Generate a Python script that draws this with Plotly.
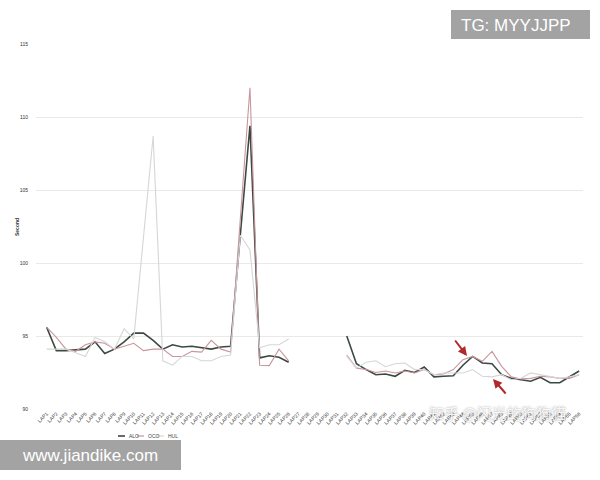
import plotly.graph_objects as go

laps = [f"LAP{i}" for i in range(1, 57)]
gap = [None] * 5

alo = [95.6, 94.0, 94.0, 94.05, 94.1, 94.6, 93.8, 94.1, 94.6, 95.2,
       95.2, 94.7, 94.1, 94.4, 94.25, 94.3, 94.2, 94.1, 94.25, 94.3,
       101.9, 109.4, 93.5, 93.65, 93.55, 93.2] + gap + [
       95.0, 93.1, 92.7, 92.35, 92.4, 92.24, 92.65, 92.5, 92.88, 92.2,
       92.24, 92.28, 93.0, 93.6, 93.15, 93.1, 92.35, 92.1, 92.0, 91.9,
       92.17, 91.8, 91.8, 92.2, 92.6]

oco = [95.6, 94.9, 94.1, 93.95, 94.4, 94.6, 94.5, 94.1, 94.3, 94.5,
       94.0, 94.1, 94.1, 93.6, 93.6, 93.95, 93.9, 94.7, 94.1, 93.9,
       103.0, 112.0, 93.0, 92.97, 94.1, 93.3] + gap + [
       93.7, 92.8, 92.7, 92.5, 92.6, 92.47, 92.6, 92.47, 92.7, 92.35,
       92.4, 92.7, 93.38, 93.6, 93.27, 93.95, 92.92, 92.2, 92.06, 92.1,
       92.24, 92.2, 92.1, 92.1, 92.35]

hul = [94.1, 94.1, 94.1, 93.85, 93.6, 94.9, 94.6, 94.1, 95.5, 94.8,
       101.7, 108.7, 93.3, 93.0, 93.6, 93.6, 93.3, 93.3, 93.6, 93.7,
       101.9, 100.9, 94.2, 94.4, 94.4, 94.8] + gap + [
       93.6, 92.8, 93.2, 93.3, 92.9, 93.1, 93.15, 92.7, 92.7, 92.35,
       92.47, 92.47, 92.47, 92.7, 92.24, 92.2, 92.35, 92.0, 92.1, 92.47,
       92.35, 92.24, 92.1, 92.2, 92.35]

series_names = ["ALO", "OCO", "HUL"]
series_colors = ["#3b4944", "#c8959c", "#d6d6d6"]
series_widths = [1.6, 1.1, 1.1]
y_ticks = [90, 95, 100, 105, 110, 115]

# plot area in pixels
L, R, T, B = 36, 583, 44, 409
W, H = 600, 480


def px(x):
    return (x - L) / (R - L)


def py(y):
    return (B - y) / (B - T)


fig = go.Figure()
for name, vals, col, lw in zip(series_names, [alo, oco, hul], series_colors, series_widths):
    fig.add_trace(go.Scatter(x=laps, y=vals, name=name, mode="lines",
                             line=dict(color=col, width=lw)))

fig.update_layout(
    width=W, height=H,
    margin=dict(l=L, r=W - R, t=T, b=H - B),
    paper_bgcolor="white", plot_bgcolor="white",
    font=dict(family="Liberation Sans, Arial, sans-serif", color="#333333", size=5),
    showlegend=False,
    xaxis=dict(type="category", range=[-1.1, 55.4], showgrid=False, zeroline=False,
               tickangle=-45, tickfont=dict(size=5, color="#333333"),
               ticks="", showline=False, automargin=False),
    yaxis=dict(range=[90, 115], tickvals=y_ticks, showgrid=True, gridcolor="#e9e9e9",
               gridwidth=1, zeroline=False, ticks="", ticklabelstandoff=7,
               tickfont=dict(size=5, color="#333333"), automargin=False),
)

# custom compact legend
leg_y = 436
leg_x = [118, 137, 157]
for name, col, lw, lx in zip(series_names, series_colors, series_widths, leg_x):
    fig.add_shape(type="line", xref="paper", yref="paper",
                  x0=px(lx), x1=px(lx + 7), y0=py(leg_y), y1=py(leg_y),
                  line=dict(color=col, width=max(lw, 1.2)))
    fig.add_annotation(text=name, xref="paper", yref="paper", x=px(lx + 8.5), y=py(leg_y),
                       xanchor="left", yanchor="middle", showarrow=False,
                       font=dict(size=5, color="#444444"))

# y-axis title
fig.add_annotation(text="<b>Second</b>", xref="paper", yref="paper",
                   x=px(17), y=py(227), xanchor="center", yanchor="middle",
                   showarrow=False, textangle=-90,
                   font=dict(size=5, color="#333333"))

# red arrows
fig.add_annotation(xref="paper", yref="paper", x=px(467), y=py(356), text="",
                   showarrow=True, ax=-13, ay=-17, arrowhead=2, arrowsize=0.9,
                   arrowwidth=2, arrowcolor="#b12a2a")
fig.add_annotation(xref="paper", yref="paper", x=px(493), y=py(379), text="",
                   showarrow=True, ax=14, ay=16, arrowhead=2, arrowsize=0.9,
                   arrowwidth=2, arrowcolor="#b12a2a")

# watermarks
fig.add_shape(type="rect", xref="paper", yref="paper",
              x0=px(451), x1=px(590), y0=py(39), y1=py(10),
              fillcolor="#a3a3a3", line=dict(width=0), layer="below")
fig.add_annotation(text="TG: MYYJJPP", xref="paper", yref="paper",
                   x=px(516), y=py(25), xanchor="center", yanchor="middle",
                   showarrow=False,
                   font=dict(size=17, color="white", family="Liberation Sans, Arial, sans-serif"))

fig.add_shape(type="rect", xref="paper", yref="paper",
              x0=px(0), x1=px(181), y0=py(470), y1=py(440),
              fillcolor="#a3a3a3", line=dict(width=0), layer="below")
fig.add_annotation(text="www.jiandike.com", xref="paper", yref="paper",
                   x=px(90), y=py(455), xanchor="center", yanchor="middle",
                   showarrow=False,
                   font=dict(size=17, color="white", family="Liberation Sans, Arial, sans-serif"))

fig.add_annotation(text="知乎 @闪光的狗狗猫", xref="paper", yref="paper",
                   x=px(498), y=py(412), xanchor="center", yanchor="middle",
                   showarrow=False,
                   font=dict(size=15, color="rgba(255,255,255,0.9)",
                             family="Noto Sans CJK SC, sans-serif",
                             shadow="0px 0px 2px rgba(0,0,0,0.45)"))

fig.write_html("out.html", config={"displayModeBar": False},
               post_script="document.body.style.margin='0px';")
